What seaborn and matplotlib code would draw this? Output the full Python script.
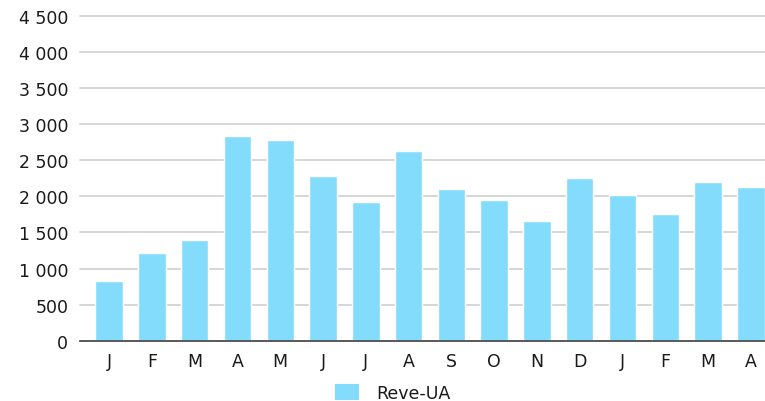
import matplotlib
matplotlib.use("Agg")
import matplotlib.pyplot as plt
import seaborn as sns
import pandas as pd
from matplotlib.patches import Patch

months = ["J", "F", "M", "A", "M", "J", "J", "A", "S", "O", "N", "D", "J", "F", "M", "A"]
keys = [f"m{i:02d}" for i in range(len(months))]
values = [823, 1219, 1395, 2831, 2784, 2277, 1925, 2632, 2101, 1949, 1662, 2253, 2014, 1751, 2194, 2125]
series_name = "Reve-UA"
yticks = [0, 500, 1000, 1500, 2000, 2500, 3000, 3500, 4000, 4500]

sns.set_theme(style="white")
plt.rcParams['font.family'] = ['DejaVu Sans']

df = pd.DataFrame({"key": keys, "value": values})
bar_color = "#84DCFC"
text_color = "#1a1a1a"
fs = 12.5

fig = plt.figure(figsize=(7.65, 4.02), dpi=100)
ax = fig.add_axes([0.1046, 0.15, 0.8954, 0.808])
sns.barplot(data=df, x="key", y="value", order=keys, color=bar_color,
            width=0.64, saturation=1, ax=ax, zorder=3)

ax.set_ylim(0, 4500)
ax.set_xlim(-0.68, 15.33)
ax.set_yticks(yticks)
ax.set_yticklabels([f"{v:,}".replace(",", " ") for v in yticks], fontsize=fs, color=text_color)
ax.set_xticks(range(len(months)))
ax.set_xticklabels(months, fontsize=fs, color=text_color)
ax.set_xlabel("")
ax.set_ylabel("")
ax.tick_params(axis="both", length=0)
ax.tick_params(axis="y", pad=8.5)
ax.tick_params(axis="x", pad=8)
ax.yaxis.grid(True, color="#cfcfcf", linewidth=1.2, zorder=0)
for gl in ax.get_ygridlines():
    gl.set_clip_on(False)
for s in ["top", "right", "left"]:
    ax.spines[s].set_visible(False)
ax.spines["bottom"].set_color("#444444")
ax.spines["bottom"].set_linewidth(1.2)
ax.spines["bottom"].set_zorder(4)

handle = Patch(facecolor=bar_color, edgecolor="none", label=series_name)
fig.legend(handles=[handle], loc="center", bbox_to_anchor=(0.514, 0.02),
           frameon=False, fontsize=fs, handlelength=1.38, handleheight=1.0,
           handletextpad=1.0, labelcolor=text_color, borderpad=0, borderaxespad=0)

fig.savefig("out.png", dpi=100)
